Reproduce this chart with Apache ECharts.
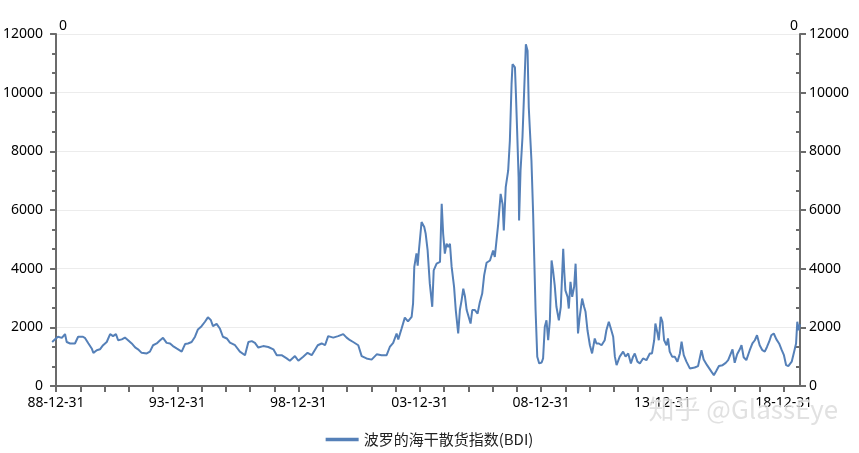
<!DOCTYPE html>
<html>
<head>
<meta charset="utf-8">
<script src="https://cdn.jsdelivr.net/npm/echarts@6/dist/echarts.min.js"></script>
<style>html,body{margin:0;padding:0;background:#fff}#c{width:859px;height:453px}</style>
</head>
<body>
<div id="c"></div>
<script>
// Dates as decimal calendar years
const years = [
1988.84,1988.96,1989.08,1989.24,1989.37,1989.44,1989.58,1989.78,1989.91,1990.11,
1990.20,1990.33,1990.47,1990.54,1990.68,1990.81,1990.94,1991.09,1991.23,1991.35,
1991.47,1991.56,1991.71,1991.84,1991.97,1992.12,1992.26,1992.38,1992.53,1992.74,
1992.87,1993.00,1993.15,1993.29,1993.41,1993.56,1993.70,1993.82,1993.97,1994.18,
1994.32,1994.44,1994.59,1994.73,1994.85,1995.00,1995.14,1995.26,1995.38,1995.47,
1995.62,1995.76,1995.88,1996.04,1996.17,1996.38,1996.58,1996.79,1996.93,1997.07,
1997.20,1997.34,1997.54,1997.75,1997.96,1998.10,1998.30,1998.51,1998.64,1998.85,
1998.99,1999.19,1999.37,1999.54,1999.79,1999.95,2000.09,2000.22,2000.43,2000.63,
2000.84,2000.98,2001.12,2001.25,2001.46,2001.60,2001.80,2002.01,2002.22,2002.42,
2002.63,2002.76,2002.90,2003.04,2003.11,2003.25,2003.38,2003.51,2003.66,2003.72,
2003.77,2003.86,2003.91,2003.96,2004.07,2004.18,2004.24,2004.32,2004.41,2004.51,
2004.57,2004.69,2004.83,2004.90,2004.96,2005.03,2005.10,2005.17,2005.24,2005.31,
2005.41,2005.48,2005.58,2005.65,2005.72,2005.79,2005.86,2005.93,2005.99,2006.09,
2006.16,2006.27,2006.38,2006.47,2006.57,2006.65,2006.75,2006.89,2007.02,2007.09,
2007.23,2007.33,2007.41,2007.46,2007.54,2007.64,2007.71,2007.78,2007.82,2007.92,
2007.96,2008.01,2008.07,2008.09,2008.15,2008.23,2008.30,2008.37,2008.44,2008.49,
2008.53,2008.60,2008.67,2008.70,2008.77,2008.84,2008.92,2009.02,2009.08,2009.15,
2009.22,2009.29,2009.36,2009.43,2009.49,2009.56,2009.63,2009.73,2009.81,2009.91,
2009.95,2010.00,2010.09,2010.14,2010.21,2010.28,2010.36,2010.42,2010.47,2010.52,
2010.59,2010.69,2010.77,2010.83,2010.91,2011.01,2011.10,2011.21,2011.28,2011.38,
2011.49,2011.62,2011.69,2011.79,2011.87,2011.97,2012.04,2012.11,2012.24,2012.38,
2012.48,2012.59,2012.70,2012.79,2012.86,2012.97,2013.07,2013.20,2013.34,2013.48,
2013.57,2013.66,2013.71,2013.80,2013.85,2013.93,2014.00,2014.07,2014.17,2014.23,
2014.30,2014.40,2014.51,2014.62,2014.72,2014.79,2014.88,2014.99,2015.13,2015.33,
2015.47,2015.61,2015.70,2015.84,2016.02,2016.12,2016.23,2016.33,2016.48,2016.61,
2016.71,2016.78,2016.89,2016.98,2017.08,2017.19,2017.26,2017.35,2017.46,2017.60,
2017.71,2017.81,2017.90,2018.01,2018.12,2018.22,2018.31,2018.40,2018.49,2018.59,
2018.70,2018.81,2018.92,2019.01,2019.10,2019.19,2019.33,2019.43,2019.51,2019.56,
2019.62,2019.67
];
// BDI values
const bdi = [
1500,1590,1680,1640,1770,1500,1450,1450,1680,1680,
1630,1460,1280,1130,1220,1250,1390,1500,1770,1700,
1770,1560,1590,1650,1560,1450,1315,1250,1130,1110,
1170,1390,1450,1560,1640,1470,1450,1360,1280,1170,
1430,1450,1500,1680,1930,2040,2190,2340,2250,2040,
2120,1950,1680,1620,1480,1390,1170,1050,1500,1530,
1470,1310,1360,1330,1250,1050,1050,940,860,1020,
860,1000,1130,1050,1390,1450,1390,1700,1650,1700,
1770,1650,1560,1500,1390,1020,940,900,1080,1050,
1050,1330,1470,1790,1590,1970,2330,2200,2360,2820,
4060,4520,4100,4620,5590,5420,5190,4620,3490,2700,
3940,4170,4230,6210,5190,4510,4850,4740,4850,4060,
3380,2590,1790,2590,2920,3320,3050,2590,2530,2130,
2590,2590,2470,2850,3150,3770,4200,4280,4620,4400,
5530,6550,6200,5300,6780,7340,8360,10290,10970,10860,
9950,8700,7120,5640,7340,8480,10060,11650,11430,9500,
8820,7690,5870,4850,2590,1000,770,800,940,2020,
2240,1560,2240,4280,3940,3430,2700,2240,2700,4680,
3940,3260,3040,2640,3550,3040,3380,4170,3040,1790,
2360,2980,2700,2530,1900,1390,1110,1620,1450,1450,
1390,1560,1900,2190,1970,1680,1000,710,1000,1170,
1000,1110,770,1000,1110,830,770,940,880,1110,
1110,1560,2130,1790,1560,2360,2190,1560,1390,1620,
1170,1000,1000,830,1110,1510,1050,830,600,630,
680,1220,900,710,490,370,530,680,710,790,
880,940,1250,790,1080,1250,1390,980,880,1220,
1450,1560,1730,1390,1220,1170,1330,1510,1730,1790,
1590,1450,1220,1050,710,680,830,1170,1450,2190,
1900,2100
];
const xTickLabels = ['88-12-31','93-12-31','98-12-31','03-12-31','08-12-31','13-12-31','18-12-31'];
const seriesName = '波罗的海干散货指数(BDI)';
const axisNameText = '0';
const watermark = '知乎 @GlassEye';

const BASE = 1989; // 88-12-31
const xMin = 1988.835 - BASE, xMax = 2019.672 - BASE;
const data = years.map((y, i) => [y - BASE, bdi[i]]);
const yearTicks = []; for (let k = 0; k <= 30; k++) yearTicks.push(k);
const labelTicks = xTickLabels.map((_, i) => i * 5);

const AX = '#6b6b6b';
const LINE = '#5580b8';
const FONT = "'Noto Sans', 'Noto Sans CJK SC', sans-serif";
const chart = echarts.init(document.getElementById('c'));
const minorAxis = (pos) => ({
  type: 'value', position: pos, min: 0, max: 12000, interval: 2000,
  axisLine: { show: false }, axisLabel: { show: false }, splitLine: { show: false },
  axisTick: { show: true, inside: true, length: 0.01, lineStyle: { color: 'rgba(0,0,0,0)', width: 0 } },
  minorTick: { show: true, splitNumber: 3, length: 4, lineStyle: { color: AX, width: 2 } }
});
const yLabel = { color: '#000', fontSize: 14, margin: 9, fontFamily: FONT, formatter: v => String(v) };
chart.setOption({
  animation: false,
  grid: { left: 52, right: 59, top: 34, bottom: 67 },
  xAxis: {
    type: 'value', min: xMin, max: xMax,
    axisLine: { lineStyle: { color: AX, width: 2 } },
    axisTick: { customValues: yearTicks, length: 6, lineStyle: { color: AX, width: 2 } },
    axisLabel: { customValues: labelTicks, formatter: v => xTickLabels[Math.round(v / 5)],
      color: '#000', fontSize: 14, margin: 10, fontFamily: FONT },
    splitLine: { show: false }
  },
  yAxis: [
    { type: 'value', position: 'left', min: 0, max: 12000, interval: 2000,
      name: axisNameText, nameLocation: 'end', nameGap: 1,
      nameTextStyle: { align: 'left', verticalAlign: 'bottom', color: '#000', fontSize: 14, fontFamily: FONT, padding: [0, 0, 0, 3] },
      axisLine: { show: true, lineStyle: { color: AX, width: 2 } },
      axisTick: { show: true, length: 6, lineStyle: { color: AX, width: 2 } },
      axisLabel: yLabel,
      splitLine: { show: true, lineStyle: { color: '#ececec', width: 1 } } },
    { type: 'value', position: 'right', min: 0, max: 12000, interval: 2000,
      name: axisNameText, nameLocation: 'end', nameGap: 1,
      nameTextStyle: { align: 'right', verticalAlign: 'bottom', color: '#000', fontSize: 14, fontFamily: FONT, padding: [0, 2, 0, 0] },
      axisLine: { show: true, lineStyle: { color: AX, width: 2 } },
      axisTick: { show: true, length: 6, lineStyle: { color: AX, width: 2 } },
      axisLabel: yLabel,
      splitLine: { show: false } },
    minorAxis('left'),
    minorAxis('right')
  ],
  legend: {
    left: 'center', top: 427, itemWidth: 33, itemHeight: 14, icon: 'path://M0,0 L10,0 L10,1 L0,1 Z',
    textStyle: { color: '#222', fontSize: 15, fontFamily: "'Noto Sans CJK SC', sans-serif" },
    data: [seriesName]
  },
  graphic: [{
    type: 'text', left: 648, top: 396, silent: true, z: 100,
    style: { text: watermark, fontSize: 26, fontFamily: "'Noto Sans CJK SC', sans-serif",
      fill: 'rgba(215,215,215,0.75)', stroke: 'rgba(255,255,255,0.9)', lineWidth: 1 }
  }],
  series: [{
    name: seriesName, type: 'line', data: data, xAxisIndex: 0, yAxisIndex: 0,
    symbol: 'none', showSymbol: false,
    lineStyle: { color: LINE, width: 2 }, itemStyle: { color: LINE }
  }]
});
</script>
</body>
</html>
